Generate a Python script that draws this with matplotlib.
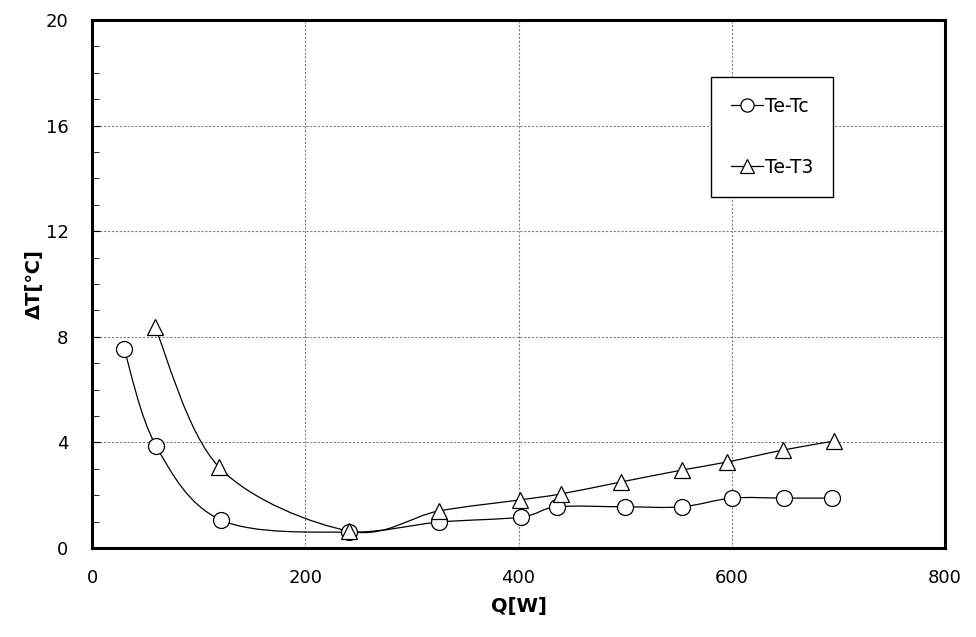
import numpy as np
import matplotlib
matplotlib.use('Agg')
import matplotlib.pyplot as plt
from matplotlib.path import Path
from matplotlib.patches import PathPatch
from matplotlib.lines import Line2D

# Te-Tc (circles)
q_tc = [30, 60, 121, 241, 325, 402, 436, 500, 553, 600, 649, 694]
dt_tc = [7.55, 3.87, 1.06, 0.6, 0.98, 1.17, 1.56, 1.56, 1.56, 1.89, 1.89, 1.89]
# Te-T3 (triangles)
q_t3 = [59, 119, 241, 325, 401, 440, 496, 553, 596, 648, 696]
dt_t3 = [8.37, 3.07, 0.64, 1.4, 1.82, 2.05, 2.5, 2.95, 3.26, 3.71, 4.05]


def smooth_path(x, y):
    # excel-like smoothed line: cubic bezier segments through the points
    p = np.column_stack([x, y]).astype(float)
    n = len(p)
    verts = [p[0]]
    codes = [Path.MOVETO]
    for i in range(n - 1):
        p0 = p[i - 1] if i > 0 else p[i]
        p3 = p[i + 2] if i + 2 < n else p[i + 1]
        c1 = p[i] + (p[i + 1] - p0) / 6.0
        c2 = p[i + 1] - (p3 - p[i]) / 6.0
        verts += [c1, c2, p[i + 1]]
        codes += [Path.CURVE4] * 3
    return Path(verts, codes)


fig = plt.figure(figsize=(9.76, 6.37), dpi=100)
ax = fig.add_axes([0.0943, 0.1397, 0.8739, 0.8289])

for xs, ys in [(q_tc, dt_tc), (q_t3, dt_t3)]:
    ax.add_patch(PathPatch(smooth_path(xs, ys), facecolor='none',
                           edgecolor='black', lw=0.9, zorder=3))

ax.plot(q_tc, dt_tc, linestyle='none', marker='o', ms=11.5, mfc='white',
        mec='black', mew=0.9, zorder=4)
ax.plot(q_t3, dt_t3, linestyle='none', marker='^', ms=12, mfc='white',
        mec='black', mew=0.9, zorder=5)

ax.set_xlim(0, 800)
ax.set_ylim(0, 20)
ax.set_xticks([0, 200, 400, 600, 800])
ax.set_yticks([0, 4, 8, 12, 16, 20])
ax.set_yticks(np.arange(0, 21, 1), minor=True)
ax.grid(True, which='major', color='#808080', linestyle=(0, (2, 1.5)), lw=0.8)
ax.tick_params(axis='x', length=0, pad=15, labelsize=13)
ax.tick_params(axis='y', which='major', direction='in', length=6, pad=17, labelsize=13)
ax.tick_params(axis='y', which='minor', direction='in', length=5)

for s in ax.spines.values():
    s.set_linewidth(2.2)

ax.set_xlabel('Q[W]', fontsize=14, fontweight='bold', labelpad=7)
ax.set_ylabel('ΔT[℃]', fontsize=14, fontweight='bold', labelpad=1)

handles = [
    Line2D([], [], color='black', lw=0.9, marker='o', ms=9.5, mfc='white', mec='black', mew=0.9),
    Line2D([], [], color='black', lw=0.9, marker='^', ms=9.5, mfc='white', mec='black', mew=0.9),
]
leg = ax.legend(handles, ['Te-Tc', 'Te-T3'], loc='upper left',
                bbox_to_anchor=(0.7257, 0.892), fontsize=13.5, frameon=True,
                fancybox=False, edgecolor='black', framealpha=1,
                handlelength=1.7, handletextpad=0.15, labelspacing=2.25,
                borderpad=1.05, borderaxespad=0)
leg.get_frame().set_linewidth(1.0)

fig.savefig('out.png', dpi=100)
